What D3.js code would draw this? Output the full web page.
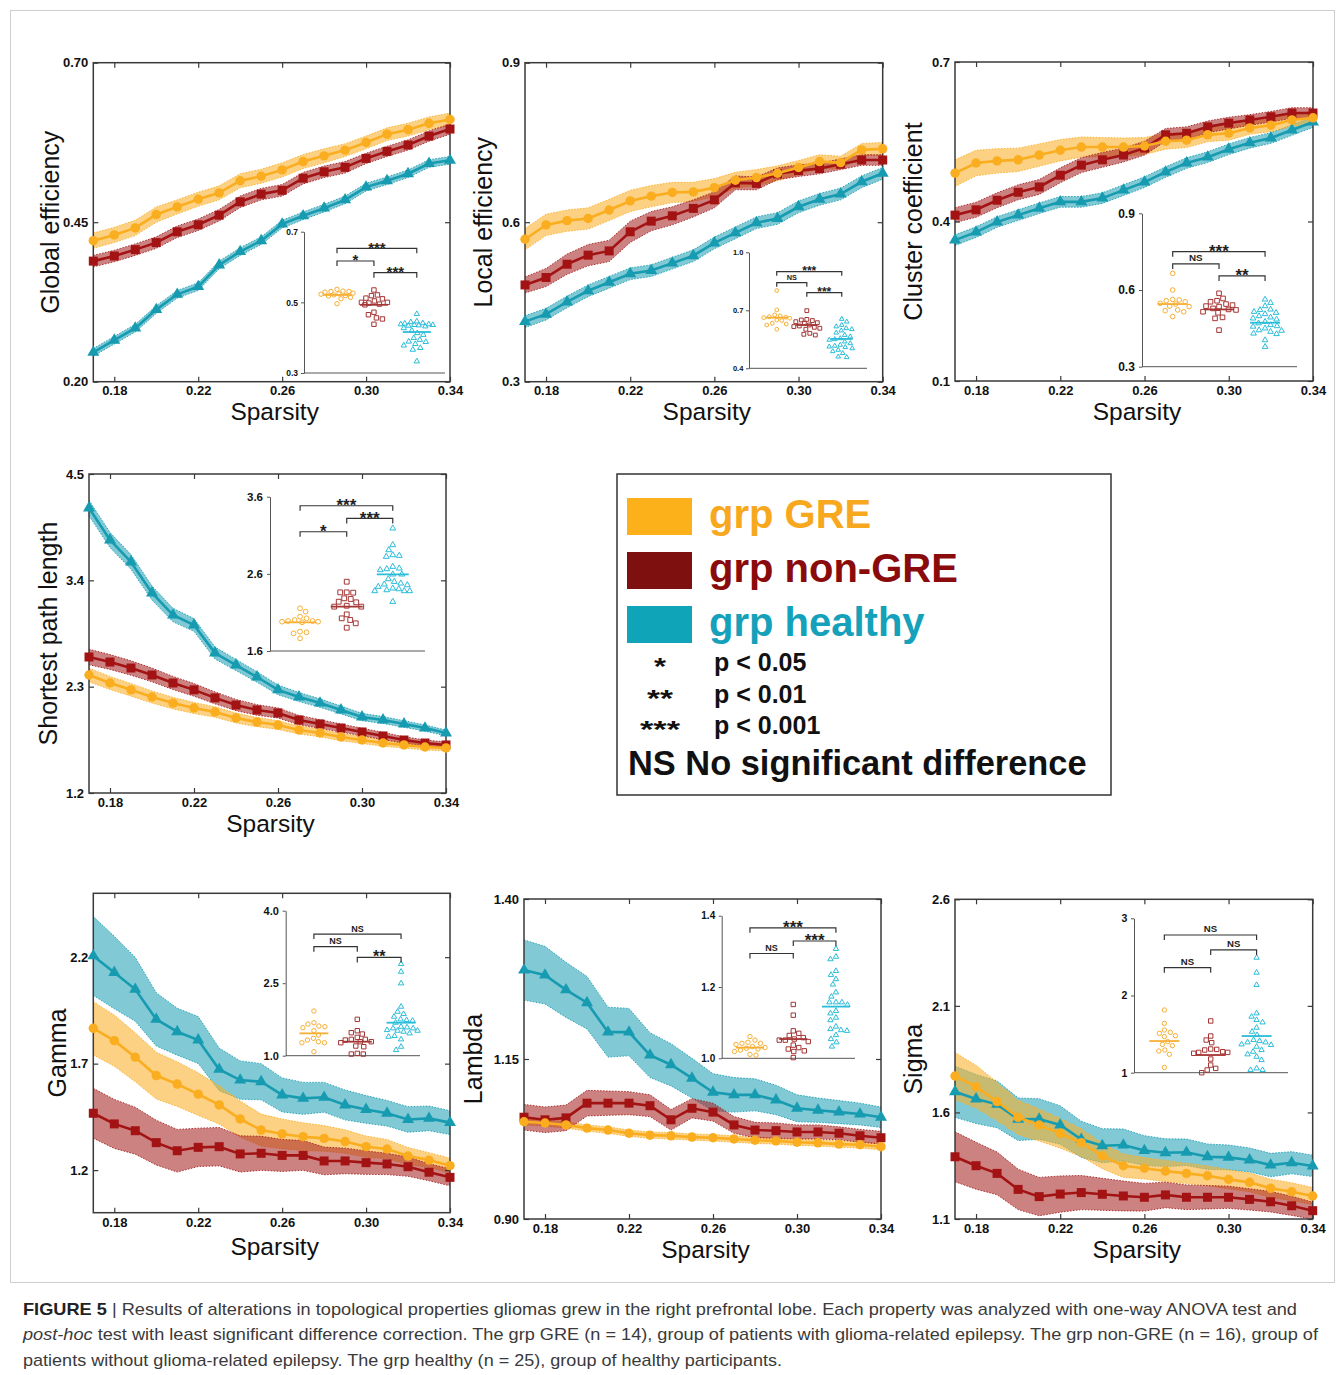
<!DOCTYPE html>
<html><head><meta charset="utf-8">
<script src="https://cdn.jsdelivr.net/npm/d3@7"></script>
<style>
body{margin:0;background:#fff}
svg{display:block}
text{font-family:"Liberation Sans",Arial,Helvetica,sans-serif}
</style>
</head><body>
<svg id="c" width="1342" height="1375"></svg>
<script>
// ---------------- DATA ----------------
const groups = ["grp GRE", "grp non-GRE", "grp healthy"];
const sparsity = [0.17,0.18,0.19,0.20,0.21,0.22,0.23,0.24,0.25,0.26,0.27,0.28,0.29,0.30,0.31,0.32,0.33,0.34];
const xTickValues = [0.18,0.22,0.26,0.30,0.34];
const xTickLabels = ["0.18","0.22","0.26","0.30","0.34"];

// Global efficiency
const geGRE = [0.421,0.430,0.441,0.462,0.474,0.486,0.496,0.515,0.522,0.532,0.545,0.554,0.563,0.575,0.588,0.595,0.605,0.611];
const geNon = [0.389,0.397,0.407,0.418,0.435,0.446,0.461,0.482,0.494,0.500,0.519,0.529,0.536,0.550,0.561,0.571,0.585,0.596];
const geHea = [0.246,0.265,0.284,0.313,0.337,0.349,0.383,0.404,0.421,0.447,0.460,0.472,0.485,0.505,0.515,0.526,0.542,0.547];
const geGREerr = [0.012,0.012,0.012,0.012,0.011,0.011,0.011,0.011,0.011,0.011,0.011,0.011,0.010,0.010,0.010,0.010,0.010,0.010];
const geNonErr = [0.009,0.009,0.009,0.009,0.009,0.009,0.009,0.009,0.009,0.009,0.009,0.009,0.009,0.008,0.008,0.008,0.008,0.008];
const geHeaErr = [0.006,0.006,0.006,0.006,0.006,0.006,0.006,0.006,0.006,0.006,0.006,0.006,0.006,0.006,0.006,0.006,0.006,0.006];

// Local efficiency
const leGRE = [0.568,0.595,0.603,0.607,0.623,0.640,0.649,0.656,0.657,0.665,0.679,0.684,0.692,0.703,0.714,0.712,0.736,0.738];
const leNon = [0.482,0.496,0.521,0.538,0.546,0.582,0.602,0.612,0.626,0.642,0.674,0.673,0.691,0.697,0.701,0.709,0.717,0.717];
const leHea = [0.413,0.427,0.450,0.471,0.487,0.503,0.509,0.523,0.537,0.561,0.580,0.599,0.607,0.629,0.643,0.653,0.676,0.692];
const leGREerr = [0.020,0.020,0.020,0.020,0.020,0.020,0.020,0.019,0.018,0.017,0.015,0.015,0.014,0.013,0.013,0.012,0.012,0.012];
const leNonErr = [0.015,0.017,0.019,0.020,0.020,0.020,0.018,0.017,0.016,0.015,0.013,0.012,0.011,0.011,0.010,0.010,0.010,0.010];
const leHeaErr = [0.011,0.011,0.011,0.011,0.011,0.011,0.011,0.011,0.011,0.011,0.011,0.011,0.011,0.011,0.011,0.011,0.011,0.011];

// Cluster coefficient
const ccGRE = [0.491,0.510,0.514,0.516,0.525,0.534,0.540,0.540,0.540,0.542,0.551,0.553,0.563,0.566,0.576,0.581,0.591,0.595];
const ccNon = [0.412,0.422,0.440,0.455,0.465,0.487,0.506,0.516,0.525,0.538,0.563,0.566,0.578,0.585,0.591,0.597,0.604,0.604];
const ccHea = [0.365,0.380,0.399,0.412,0.425,0.437,0.437,0.444,0.459,0.474,0.493,0.510,0.521,0.536,0.548,0.557,0.572,0.587];
const ccGREerr = [0.025,0.024,0.023,0.022,0.021,0.020,0.019,0.018,0.017,0.016,0.015,0.014,0.013,0.013,0.012,0.012,0.012,0.012];
const ccNonErr = [0.014,0.014,0.014,0.014,0.014,0.014,0.014,0.014,0.013,0.013,0.012,0.012,0.011,0.011,0.010,0.010,0.010,0.010];
const ccHeaErr = [0.010,0.010,0.010,0.010,0.010,0.010,0.010,0.010,0.010,0.010,0.010,0.010,0.010,0.010,0.010,0.010,0.010,0.010];

// Shortest path length
const spGRE = [2.421,2.338,2.267,2.193,2.130,2.079,2.038,1.976,1.934,1.903,1.852,1.821,1.779,1.748,1.717,1.697,1.676,1.666];
const spNon = [2.607,2.555,2.493,2.421,2.338,2.267,2.184,2.110,2.059,2.028,1.955,1.914,1.872,1.831,1.790,1.748,1.717,1.697];
const spHea = [4.148,3.817,3.590,3.269,3.041,2.938,2.648,2.524,2.400,2.267,2.193,2.130,2.059,1.986,1.955,1.914,1.872,1.821];
const spGREerr = [0.070,0.068,0.065,0.062,0.060,0.057,0.054,0.051,0.048,0.045,0.042,0.040,0.038,0.036,0.034,0.032,0.031,0.030];
const spNonErr = [0.080,0.077,0.074,0.071,0.068,0.065,0.062,0.058,0.055,0.052,0.048,0.045,0.042,0.040,0.037,0.034,0.032,0.030];
const spHeaErr = [0.080,0.078,0.076,0.073,0.070,0.066,0.062,0.058,0.054,0.050,0.047,0.044,0.041,0.038,0.036,0.034,0.032,0.030];

// Gamma
const gaGRE = [1.866,1.808,1.730,1.644,1.604,1.557,1.506,1.440,1.388,1.370,1.357,1.349,1.334,1.310,1.299,1.266,1.247,1.221];
const gaNon = [1.467,1.417,1.385,1.329,1.291,1.307,1.310,1.276,1.279,1.269,1.269,1.243,1.243,1.235,1.229,1.216,1.190,1.166];
const gaHea = [2.206,2.128,2.049,1.908,1.850,1.811,1.673,1.623,1.615,1.553,1.537,1.542,1.506,1.485,1.467,1.438,1.443,1.423];
const gaGREerr = [0.125,0.120,0.115,0.110,0.105,0.100,0.090,0.085,0.075,0.070,0.065,0.060,0.055,0.050,0.045,0.040,0.035,0.035];
const gaNonErr = [0.117,0.115,0.110,0.105,0.100,0.090,0.090,0.085,0.080,0.075,0.070,0.065,0.060,0.055,0.050,0.045,0.040,0.040];
const gaHeaErr = [0.185,0.170,0.150,0.125,0.110,0.110,0.100,0.090,0.085,0.080,0.075,0.070,0.070,0.065,0.060,0.060,0.058,0.056];

// Lambda
const laGRE = [1.052,1.050,1.047,1.042,1.039,1.034,1.031,1.030,1.028,1.027,1.025,1.023,1.022,1.020,1.019,1.017,1.016,1.013];
const laNon = [1.059,1.055,1.058,1.081,1.081,1.081,1.077,1.055,1.073,1.067,1.047,1.039,1.038,1.036,1.036,1.034,1.030,1.027];
const laHea = [1.289,1.281,1.258,1.238,1.192,1.192,1.156,1.141,1.120,1.098,1.094,1.094,1.086,1.073,1.070,1.067,1.064,1.059];
const laGREerr = [0.005,0.005,0.005,0.005,0.005,0.005,0.005,0.005,0.005,0.005,0.005,0.005,0.005,0.005,0.005,0.005,0.005,0.005];
const laNonErr = [0.020,0.020,0.020,0.020,0.019,0.018,0.017,0.016,0.015,0.014,0.013,0.012,0.012,0.011,0.011,0.010,0.010,0.010];
const laHeaErr = [0.047,0.045,0.043,0.041,0.039,0.037,0.035,0.033,0.031,0.029,0.027,0.025,0.023,0.021,0.019,0.018,0.017,0.016];

// Sigma
const siGRE = [1.771,1.721,1.651,1.577,1.541,1.502,1.458,1.396,1.350,1.338,1.325,1.314,1.303,1.286,1.272,1.244,1.228,1.208];
const siNon = [1.392,1.350,1.314,1.239,1.205,1.217,1.224,1.216,1.208,1.202,1.213,1.202,1.202,1.202,1.192,1.181,1.162,1.139];
const siHea = [1.697,1.663,1.638,1.568,1.569,1.541,1.474,1.444,1.447,1.421,1.411,1.413,1.392,1.389,1.377,1.353,1.364,1.349];
const siGREerr = [0.110,0.100,0.090,0.080,0.075,0.070,0.065,0.060,0.055,0.050,0.050,0.048,0.046,0.045,0.044,0.043,0.042,0.040];
const siNonErr = [0.117,0.110,0.100,0.095,0.090,0.085,0.080,0.075,0.070,0.065,0.060,0.058,0.055,0.052,0.050,0.048,0.045,0.040];
const siHeaErr = [0.120,0.115,0.110,0.100,0.095,0.090,0.085,0.080,0.075,0.070,0.065,0.062,0.060,0.058,0.056,0.055,0.052,0.050];

// Inset (individual subjects) data
const geInGRE = [0.537,0.532,0.531,0.531,0.529,0.526,0.524,0.523,0.521,0.519,0.518,0.514,0.510,0.496];
const geInNon = [0.535,0.521,0.519,0.512,0.510,0.504,0.500,0.500,0.498,0.495,0.493,0.472,0.465,0.456,0.453,0.438];
const geInHea = [0.467,0.446,0.444,0.441,0.440,0.438,0.438,0.436,0.436,0.435,0.434,0.432,0.427,0.420,0.413,0.408,0.399,0.394,0.389,0.388,0.382,0.378,0.371,0.366,0.333];
const geInMean = [0.521,0.493,0.416];
const geBrackets = [[0,2,"***",0.653],[0,1,"*",0.617],[1,2,"***",0.584]];

const leInGRE = [0.802,0.702,0.676,0.671,0.667,0.664,0.662,0.659,0.650,0.647,0.633,0.629,0.624,0.602];
const leInNon = [0.698,0.653,0.650,0.647,0.641,0.636,0.633,0.624,0.619,0.616,0.612,0.607,0.602,0.581,0.576,0.572];
const leInHea = [0.655,0.641,0.624,0.616,0.607,0.602,0.595,0.584,0.572,0.564,0.555,0.550,0.547,0.538,0.529,0.521,0.516,0.512,0.509,0.503,0.495,0.488,0.478,0.460,0.457];
const leInMean = [0.662,0.624,0.552];
const leBrackets = [[0,2,"***",0.90],[0,1,"NS",0.843],[1,2,"***",0.791]];

const ccInGRE = [0.665,0.600,0.563,0.561,0.558,0.554,0.548,0.545,0.537,0.535,0.522,0.519,0.515,0.496];
const ccInNon = [0.587,0.567,0.558,0.554,0.545,0.541,0.537,0.535,0.528,0.524,0.522,0.515,0.511,0.493,0.489,0.443];
const ccInHea = [0.563,0.550,0.537,0.524,0.522,0.515,0.511,0.506,0.498,0.493,0.489,0.485,0.476,0.470,0.463,0.459,0.457,0.450,0.443,0.441,0.437,0.430,0.428,0.404,0.378];
const ccInMean = [0.545,0.524,0.472];
const ccBrackets = [[0,2,"***",0.75],[0,1,"NS",0.702],[1,2,"**",0.655]];

const spInGRE = [2.153,2.110,2.045,2.023,2.002,1.989,1.989,1.980,1.980,1.972,1.851,1.842,1.829,1.764];
const spInNon = [2.498,2.360,2.360,2.356,2.283,2.274,2.239,2.231,2.187,2.175,2.175,2.075,2.023,2.002,1.959,1.902];
const spInHea = [3.190,2.974,2.909,2.844,2.836,2.823,2.693,2.671,2.663,2.650,2.594,2.594,2.533,2.498,2.477,2.464,2.455,2.434,2.412,2.403,2.390,2.378,2.378,2.378,2.239];
const spInMean = [1.972,2.175,2.594];
const spBrackets = [[0,2,"***",3.483],[1,2,"***",3.319],[0,1,"*",3.146]];

const gaInGRE = [1.924,1.683,1.655,1.614,1.600,1.579,1.517,1.428,1.359,1.324,1.290,1.269,1.269,1.083];
const gaInNon = [1.752,1.517,1.476,1.448,1.379,1.338,1.338,1.324,1.290,1.290,1.269,1.200,1.186,1.048,1.034,1.034];
const gaInHea = [2.897,2.738,2.497,2.014,1.910,1.862,1.807,1.752,1.738,1.724,1.683,1.600,1.586,1.566,1.566,1.531,1.517,1.517,1.497,1.462,1.407,1.393,1.338,1.186,1.117];
const gaInMean = [1.462,1.290,1.683];
const gaBrackets = [[0,2,"NS",3.517],[0,1,"NS",3.255],[1,2,"**",3.034]];

const laInGRE = [1.061,1.051,1.045,1.042,1.042,1.039,1.033,1.030,1.028,1.026,1.023,1.019,1.011,1.009];
const laInNon = [1.151,1.121,1.077,1.070,1.064,1.058,1.054,1.051,1.051,1.047,1.037,1.030,1.026,1.021,1.019,1.002];
const laInHea = [1.307,1.285,1.278,1.245,1.234,1.222,1.207,1.185,1.173,1.157,1.157,1.157,1.150,1.133,1.126,1.114,1.107,1.089,1.082,1.079,1.077,1.065,1.054,1.045,1.033];
const laInMean = [1.030,1.054,1.145];
const laBrackets = [[0,2,"***",1.366],[1,2,"***",1.329],[0,1,"NS",1.294]];

const siInGRE = [1.812,1.639,1.553,1.523,1.510,1.479,1.467,1.402,1.367,1.350,1.294,1.281,1.238,1.069];
const siInNon = [1.670,1.475,1.423,1.389,1.307,1.302,1.294,1.272,1.263,1.263,1.251,1.177,1.099,1.056,1.035,1.000];
const siInHea = [2.490,2.296,2.136,1.769,1.726,1.683,1.652,1.583,1.531,1.488,1.423,1.410,1.393,1.393,1.367,1.359,1.337,1.294,1.272,1.238,1.207,1.164,1.056,1.035,1.035];
const siInMean = [1.410,1.229,1.475];
const siBrackets = [[0,2,"NS",2.784],[1,2,"NS",2.590],[0,1,"NS",2.361]];

const pLabels = ["*","**","***","NS"];
const pTexts = ["p < 0.05","p < 0.01","p < 0.001","No significant difference"];

// ---------------- STYLE ----------------
const LINE = ["#FAAE1F","#A31313","#169BB1"];
const BAND = ["#FAB02A","#A52020","#1C9FB4"];
const BANDOP = [0.58,0.56,0.56];
const INS = ["#F8AE33","#A53434","#2ABDD9"];
const LEGSW = ["#FCB11B","#7E1010","#0FA4B7"];
const LEGTX = ["#F7A81F","#8A0B0B","#14A1B9"];

const svg = d3.select("#c");

// frame of the whole figure
svg.append("rect").attr("x",10.5).attr("y",10.5).attr("width",1324).attr("height",1272)
  .attr("fill","none").attr("stroke","#cfcfcf").attr("stroke-width",1);

const SYMS = [d3.symbolCircle, d3.symbolSquare, d3.symbolTriangle];

function drawPanel(p){
  const g = svg.append("g");
  const x = d3.scaleLinear().domain([sparsity[0], sparsity[sparsity.length-1]]).range([p.x0,p.x1]);
  const y = d3.scaleLinear().domain(p.yDomain).range([p.y1,p.y0]);
  // bands
  [2,0,1].forEach(i=>{
    const v = p.vals[i], e = p.errs[i];
    const area = d3.area().x((d,j)=>x(sparsity[j])).y0((d,j)=>y(v[j]-e[j])).y1((d,j)=>y(v[j]+e[j]));
    g.append("path").attr("d",area(v)).attr("fill",BAND[i]).attr("fill-opacity",BANDOP[i]);
    [1,-1].forEach(s=>{
      const ln = d3.line().x((d,j)=>x(sparsity[j])).y((d,j)=>y(v[j]+s*e[j]));
      g.append("path").attr("d",ln(v)).attr("fill","none").attr("stroke",BAND[i])
        .attr("stroke-width",1).attr("stroke-dasharray","1.5,1.5").attr("stroke-opacity",0.9);
    });
  });
  // frame + axes
  g.append("rect").attr("x",p.x0).attr("y",p.y0).attr("width",p.x1-p.x0).attr("height",p.y1-p.y0)
    .attr("fill","none").attr("stroke","#3a3a3a").attr("stroke-width",1.5);
  const axL = g.append("g").attr("transform",`translate(${p.x0},0)`)
    .call(d3.axisLeft(y).tickValues(p.yTicks).tickFormat((d,i)=>p.yLabels[i]).tickSizeInner(-5).tickSizeOuter(0).tickPadding(5));
  const axR = g.append("g").attr("transform",`translate(${p.x1},0)`)
    .call(d3.axisRight(y).tickValues(p.yTicks).tickFormat("").tickSizeInner(-5).tickSizeOuter(0));
  const axB = g.append("g").attr("transform",`translate(0,${p.y1})`)
    .call(d3.axisBottom(x).tickValues(xTickValues).tickFormat((d,i)=>xTickLabels[i]).tickSizeInner(-5).tickSizeOuter(0).tickPadding(p.xPad||4.5));
  const axT = g.append("g").attr("transform",`translate(0,${p.y0})`)
    .call(d3.axisTop(x).tickValues(xTickValues).tickFormat("").tickSizeInner(-5).tickSizeOuter(0));
  [axL,axR,axB,axT].forEach(a=>{
    a.select(".domain").remove();
    a.selectAll(".tick line").attr("stroke","#3a3a3a").attr("stroke-width",1.2);
    a.selectAll("text").attr("font-size",13).attr("font-weight","bold").attr("fill","#111")
      .attr("font-family","'Liberation Sans',Arial,sans-serif");
  });
  // lines + markers
  [2,1,0].forEach(i=>{
    const v = p.vals[i];
    const ln = d3.line().x((d,j)=>x(sparsity[j])).y(d=>y(d));
    g.append("path").attr("d",ln(v)).attr("fill","none").attr("stroke",LINE[i]).attr("stroke-width",2.6);
    const sz = [70,81,62][i];
    g.selectAll(null).data(v).enter().append("path")
      .attr("d",d3.symbol().type(SYMS[i]).size(sz))
      .attr("transform",(d,j)=>`translate(${x(sparsity[j])},${y(d)})`)
      .attr("fill",LINE[i]);
  });
  // titles
  g.append("text").attr("transform",`translate(${p.titleX},${(p.y0+p.y1)/2}) rotate(-90)`)
    .attr("text-anchor","middle").attr("dominant-baseline","central")
    .attr("font-size",25).attr("fill","#111").text(p.title);
  g.append("text").attr("x",(p.x0+p.x1)/2 + 3).attr("y",p.y1+(p.sDy||38.5))
    .attr("text-anchor","middle").attr("font-size",24.5).attr("fill","#111").text("Sparsity");
}

// simple beeswarm: place points near group centre without overlap, within maxDx
function swarm(ys, dmin, maxDx){
  const idx = ys.map((d,i)=>i).sort((a,b)=>ys[a]-ys[b]);
  const placed = []; const out = new Array(ys.length);
  idx.forEach((i,n)=>{
    const yy = ys[i]; let best = null, bestScore = -1, bestFallback = 0;
    for(let k=0;k*0.5<=maxDx && best===null;k++){
      const c = k===0 ? [0] : (n%2 ? [k*0.5,-k*0.5] : [-k*0.5,k*0.5]);
      for(const dx of c){
        let mind = Infinity;
        placed.forEach(q=>{ const dd = Math.hypot(q.dx-dx, q.y-yy); if(dd<mind) mind = dd; });
        if(mind >= dmin){ best = dx; break; }
        if(mind > bestScore){ bestScore = mind; bestFallback = dx; }
      }
    }
    if(best===null) best = bestFallback;
    placed.push({dx:best,y:yy}); out[i] = {dx:best,y:yy};
  });
  return out;
}

function drawInset(q){
  const g = svg.append("g");
  const y = d3.scaleLinear().domain(q.yDomain).range([q.bottom,q.top]);
  const w = q.right - q.left;
  const cx = q.fracs.map(f=>q.left + f*w);
  const ax = g.append("g").attr("transform",`translate(${q.left},0)`)
    .call(d3.axisLeft(y).tickValues(q.ticks).tickFormat((d,i)=>q.tickLabels[i]).tickSizeInner(3).tickSizeOuter(0).tickPadding(q.tickFs*0.35));
  ax.select(".domain").attr("stroke","#555").attr("stroke-width",1);
  ax.selectAll(".tick line").attr("stroke","#555");
  ax.selectAll("text").attr("font-size",q.tickFs).attr("font-weight","bold").attr("fill","#111")
    .attr("font-family","'Liberation Sans',Arial,sans-serif");
  g.append("line").attr("x1",q.left).attr("x2",q.right).attr("y1",q.bottom).attr("y2",q.bottom)
    .attr("stroke","#555").attr("stroke-width",1);
  // points
  const sizes = [Math.PI*q.r*q.r, (q.r*2)*(q.r*2), q.r*q.r*2.6];
  q.data.forEach((vals,i)=>{
    const pos = swarm(vals.map(v=>y(v)), q.r*2+1.6, q.hw+2);
    g.selectAll(null).data(pos).enter().append("path")
      .attr("d",d3.symbol().type(SYMS[i]).size(sizes[i]))
      .attr("transform",d=>`translate(${cx[i]+d.dx},${d.y})`)
      .attr("fill","none").attr("stroke",INS[i]).attr("stroke-width",1);
    g.append("line").attr("x1",cx[i]-q.hw).attr("x2",cx[i]+q.hw)
      .attr("y1",y(q.means[i])).attr("y2",y(q.means[i]))
      .attr("stroke",INS[i]).attr("stroke-width",1.8);
  });
  // brackets
  q.brackets.forEach(b=>{
    const yb = y(b[3]); const leg = q.leg;
    g.append("path").attr("d",`M${cx[b[0]]},${yb+leg}V${yb}H${cx[b[1]]}V${yb+leg}`)
      .attr("fill","none").attr("stroke","#333").attr("stroke-width",1.2);
    const isStar = b[2].indexOf("*")>=0;
    const fs = isStar ? q.starFs : q.nsFs;
    g.append("text").attr("x",(cx[b[0]]+cx[b[1]])/2)
      .attr("y", isStar ? yb - 2 + 0.42*fs : yb - 2.5)
      .attr("text-anchor","middle").attr("font-size",fs).attr("font-weight","bold")
      .attr("fill","#222").text(b[2]);
  });
}

// ---------------- PANELS ----------------
const panels = [
  {x0:93.3,x1:450,y0:62.7,y1:381.7,yDomain:[0.2,0.7],yTicks:[0.2,0.45,0.7],yLabels:["0.20","0.45","0.70"],
   vals:[geGRE,geNon,geHea],errs:[geGREerr,geNonErr,geHeaErr],title:"Global efficiency",titleX:50},
  {x0:525,x1:882.7,y0:62.7,y1:381.7,yDomain:[0.3,0.9],yTicks:[0.3,0.6,0.9],yLabels:["0.3","0.6","0.9"],
   vals:[leGRE,leNon,leHea],errs:[leGREerr,leNonErr,leHeaErr],title:"Local efficiency",titleX:483},
  {x0:955,x1:1313,y0:62,y1:381,yDomain:[0.1,0.7],yTicks:[0.1,0.4,0.7],yLabels:["0.1","0.4","0.7"],
   vals:[ccGRE,ccNon,ccHea],errs:[ccGREerr,ccNonErr,ccHeaErr],title:"Cluster coefficient",titleX:913},
  {x0:89,x1:446,y0:474,y1:793,yDomain:[1.2,4.5],yTicks:[1.2,2.3,3.4,4.5],yLabels:["1.2","2.3","3.4","4.5"],
   vals:[spGRE,spNon,spHea],errs:[spGREerr,spNonErr,spHeaErr],title:"Shortest path length",titleX:48},
  {x0:93.3,x1:450,y0:893.3,y1:1212.7,yDomain:[1.0,2.5],yTicks:[1.2,1.7,2.2],yLabels:["1.2","1.7","2.2"],
   vals:[gaGRE,gaNon,gaHea],errs:[gaGREerr,gaNonErr,gaHeaErr],title:"Gamma",titleX:57,sDy:42,xPad:5.5},
  {x0:524,x1:881,y0:899,y1:1219,yDomain:[0.9,1.4],yTicks:[0.9,1.15,1.4],yLabels:["0.90","1.15","1.40"],
   vals:[laGRE,laNon,laHea],errs:[laGREerr,laNonErr,laHeaErr],title:"Lambda",titleX:473},
  {x0:955,x1:1312.7,y0:899.3,y1:1219,yDomain:[1.1,2.6],yTicks:[1.1,1.6,2.1,2.6],yLabels:["1.1","1.6","2.1","2.6"],
   vals:[siGRE,siNon,siHea],errs:[siGREerr,siNonErr,siHeaErr],title:"Sigma",titleX:913}
];
panels.forEach(drawPanel);

const insets = [
  {left:304,right:445,top:231.7,bottom:373,yDomain:[0.3,0.7],ticks:[0.3,0.5,0.7],tickLabels:["0.3","0.5","0.7"],
   fracs:[0.234,0.496,0.80],data:[geInGRE,geInNon,geInHea],means:geInMean,brackets:geBrackets,
   tickFs:8.5,starFs:15,nsFs:8,r:2.2,hw:14,leg:5},
  {left:749,right:867,top:252.3,bottom:368.3,yDomain:[0.4,1.0],ticks:[0.4,0.7,1.0],tickLabels:["0.4","0.7","1.0"],
   fracs:[0.235,0.49,0.786],data:[leInGRE,leInNon,leInHea],means:leInMean,brackets:leBrackets,
   tickFs:7.5,starFs:12,nsFs:7.3,r:1.9,hw:11,leg:4},
  {left:1142,right:1297,top:213.3,bottom:366.7,yDomain:[0.3,0.9],ticks:[0.3,0.6,0.9],tickLabels:["0.3","0.6","0.9"],
   fracs:[0.198,0.497,0.794],data:[ccInGRE,ccInNon,ccInHea],means:ccInMean,brackets:ccBrackets,
   tickFs:12,starFs:17,nsFs:9.8,r:2.3,hw:15,leg:5},
  {left:270,right:425,top:496.7,bottom:651,yDomain:[1.6,3.6],ticks:[1.6,2.6,3.6],tickLabels:["1.6","2.6","3.6"],
   fracs:[0.194,0.495,0.792],data:[spInGRE,spInNon,spInHea],means:spInMean,brackets:spBrackets,
   tickFs:11.5,starFs:17,nsFs:9.5,r:2.4,hw:16,leg:5},
  {left:285.7,right:420,top:910.7,bottom:1055.7,yDomain:[1.0,4.0],ticks:[1.0,2.5,4.0],tickLabels:["1.0","2.5","4.0"],
   fracs:[0.21,0.533,0.859],data:[gaInGRE,gaInNon,gaInHea],means:gaInMean,brackets:gaBrackets,
   tickFs:11,starFs:16,nsFs:9,r:2.2,hw:14.5,leg:5},
  {left:721.7,right:855,top:915.7,bottom:1058.3,yDomain:[1.0,1.4],ticks:[1.0,1.2,1.4],tickLabels:["1.0","1.2","1.4"],
   fracs:[0.212,0.537,0.857],data:[laInGRE,laInNon,laInHea],means:laInMean,brackets:laBrackets,
   tickFs:10,starFs:17,nsFs:9,r:2.2,hw:14,leg:5},
  {left:1134,right:1288,top:918.3,bottom:1072.7,yDomain:[1,3],ticks:[1,2,3],tickLabels:["1","2","3"],
   fracs:[0.197,0.498,0.796],data:[siInGRE,siInNon,siInHea],means:siInMean,brackets:siBrackets,
   tickFs:10.5,starFs:17,nsFs:9.6,r:2.2,hw:15,leg:5}
];
insets.forEach(drawInset);

// ---------------- LEGEND ----------------
const lg = svg.append("g");
lg.append("rect").attr("x",617).attr("y",474).attr("width",494).attr("height",321)
  .attr("fill","#fff").attr("stroke","#333").attr("stroke-width",1.5);
const legY = d3.scalePoint().domain(groups).range([516.5,624.5]);
groups.forEach((gname,i)=>{
  lg.append("rect").attr("x",627).attr("y",legY(gname)-18.5).attr("width",65).attr("height",37).attr("fill",LEGSW[i]);
  lg.append("text").attr("x",709).attr("y",legY(gname)+11.5).attr("font-size",40).attr("font-weight","bold")
    .attr("fill",LEGTX[i]).text(gname);
});
const pY = [662,694,725];
const starW = [12,26,40];
pTexts.slice(0,3).forEach((t,i)=>{
  lg.append("text").attr("x",660 - starW[i]/2).attr("y",pY[i]+0.55*24)
    .attr("textLength",starW[i]).attr("lengthAdjust","spacingAndGlyphs")
    .attr("font-size",24).attr("font-weight","bold").attr("fill","#111")
    .text(pLabels[i]);
  lg.append("text").attr("x",714).attr("y",pY[i]+9).attr("font-size",25).attr("font-weight","bold")
    .attr("fill","#111").text(t);
});
lg.append("text").attr("x",628).attr("y",775).attr("font-size",34.4).attr("font-weight","bold").attr("fill","#111")
  .text(pLabels[3] + " " + pTexts[3]);

// ---------------- CAPTION ----------------
const cap = svg.append("g").attr("fill","#3a3a3a").attr("font-size",17);
const l1 = cap.append("text").attr("x",23).attr("y",1315).attr("textLength",1274).attr("lengthAdjust","spacingAndGlyphs");
l1.append("tspan").attr("font-weight","bold").attr("fill","#222").text("FIGURE 5");
l1.append("tspan").text(" | Results of alterations in topological properties gliomas grew in the right prefrontal lobe. Each property was analyzed with one-way ANOVA test and");
const l2 = cap.append("text").attr("x",23).attr("y",1340).attr("textLength",1295).attr("lengthAdjust","spacingAndGlyphs");
l2.append("tspan").attr("font-style","italic").text("post-hoc");
l2.append("tspan").text(" test with least significant difference correction. The grp GRE (n = 14), group of patients with glioma-related epilepsy. The grp non-GRE (n = 16), group of");
cap.append("text").attr("x",23).attr("y",1366).attr("textLength",759).attr("lengthAdjust","spacingAndGlyphs")
  .text("patients without glioma-related epilepsy. The grp healthy (n = 25), group of healthy participants.");
</script>
</body></html>
